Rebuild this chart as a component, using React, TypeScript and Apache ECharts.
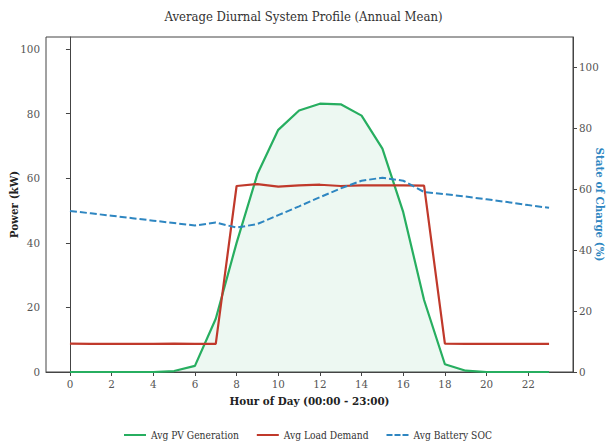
import React, { useEffect, useRef } from "react";
import * as echarts from "echarts";

const hours = [0, 1, 2, 3, 4, 5, 6, 7, 8, 9, 10, 11, 12, 13, 14, 15, 16, 17, 18, 19, 20, 21, 22, 23];
const pvGeneration = [0, 0, 0, 0, 0, 0.3, 1.9, 16.5, 40, 61.3, 75, 81, 83.1, 82.9, 79.4, 69.2, 49.5, 22.3, 2.4, 0.4, 0, 0, 0, 0];
const loadDemand = [8.8, 8.7, 8.7, 8.7, 8.7, 8.8, 8.7, 8.7, 57.6, 58.2, 57.4, 57.8, 58.0, 57.6, 57.8, 57.8, 57.8, 57.7, 8.8, 8.7, 8.7, 8.7, 8.7, 8.7];
const batterySoc = [52.9, 52.1, 51.3, 50.5, 49.7, 48.9, 48.1, 49.1, 47.4, 48.6, 51.5, 54.4, 57.4, 60.3, 62.8, 63.8, 62.8, 59.1, 58.4, 57.6, 56.7, 55.8, 54.8, 53.9];
const xTicks = [0, 2, 4, 6, 8, 10, 12, 14, 16, 18, 20, 22];
const yTicks = [0, 20, 40, 60, 80, 100];

const FONT = "'DejaVu Serif Condensed', 'DejaVu Serif', serif";
const SOLID_ICON = "path://M0,0H22V2H0Z";
const DASH_ICON = "path://M0,0H6V2H0Z M8,0H14V2H8Z M16,0H22V2H16Z";

export default function App() {
  const ref = useRef<HTMLDivElement>(null);
  useEffect(() => {
    if (!ref.current) return;
    const chart = echarts.init(ref.current, null, { renderer: "svg" });
    const pair = (arr: number[]) => hours.map((h, i) => [h, arr[i]]);
    const axisText = { color: "#555", fontFamily: FONT, fontSize: 11.5 };
    chart.setOption({
      animation: false,
      backgroundColor: "#fff",
      title: {
        text: "Average Diurnal System Profile (Annual Mean)",
        left: "center",
        top: 5,
        textStyle: { fontFamily: FONT, fontSize: 13, fontWeight: "normal", color: "#333" },
      },
      grid: {
        left: 46, right: 34, top: 37, bottom: 71,
        outerBoundsMode: "none", containLabel: false,
        show: true, borderColor: "#444", borderWidth: 1, backgroundColor: "transparent",
      },
      legend: {
        bottom: 3,
        left: 124,
        padding: [0, 0, 0, 0],
        itemWidth: 22,
        itemHeight: 2,
        itemGap: 18,
        textStyle: { fontFamily: FONT, fontSize: 10.2, color: "#333" },
        data: [
          { name: "Avg PV Generation", icon: SOLID_ICON },
          { name: "Avg Load Demand", icon: SOLID_ICON },
          { name: "Avg Battery SOC", icon: DASH_ICON },
        ],
      },
      xAxis: {
        type: "value",
        min: -1.15,
        max: 24.15,
        name: "Hour of Day (00:00 - 23:00)",
        nameLocation: "middle",
        nameGap: 21,
        nameTextStyle: { fontFamily: FONT, fontSize: 11.5, fontWeight: "bold", color: "#222" },
        axisLine: { show: true, lineStyle: { color: "#444" } },
        axisTick: { show: true, length: 4, customValues: xTicks, lineStyle: { color: "#444" } },
        axisLabel: { ...axisText, customValues: xTicks, margin: 6 },
        splitLine: { show: false },
      },
      yAxis: [
        {
          type: "value",
          min: 0,
          max: 103.75,
          name: "Power (kW)",
          nameLocation: "middle",
          nameGap: 26,
          nameMoveOverlap: false,
          nameTextStyle: { fontFamily: FONT, fontSize: 11.5, fontWeight: "bold", color: "#222" },
          axisLine: { show: true, lineStyle: { color: "#444" } },
          axisTick: { show: true, length: 4, customValues: yTicks, lineStyle: { color: "#444" } },
          axisLabel: { ...axisText, customValues: yTicks, margin: 6 },
          splitLine: { show: false },
        },
        {
          type: "value",
          min: 0,
          max: 110,
          position: "right",
          name: "State of Charge (%)",
          nameLocation: "middle",
          nameGap: 21,
          nameMoveOverlap: false,
          nameRotate: -90,
          nameTextStyle: { fontFamily: FONT, fontSize: 11.5, fontWeight: "bold", color: "#2e86c1" },
          axisLine: { show: true, lineStyle: { color: "#444" } },
          axisTick: { show: true, length: 4, customValues: yTicks, lineStyle: { color: "#444" } },
          axisLabel: { ...axisText, customValues: yTicks, margin: 6 },
          splitLine: { show: false },
        },
      ],
      series: [
        {
          name: "Avg PV Generation",
          type: "line",
          yAxisIndex: 0,
          data: pair(pvGeneration),
          symbol: "none",
          lineStyle: { color: "#27ae60", width: 2.2 },
          itemStyle: { color: "#27ae60" },
          areaStyle: { color: "rgba(39,174,96,0.12)" },
          z: 2,
        },
        {
          name: "Avg Load Demand",
          type: "line",
          yAxisIndex: 0,
          data: pair(loadDemand),
          symbol: "none",
          lineStyle: { color: "#c0392b", width: 2.2 },
          itemStyle: { color: "#c0392b" },
          z: 3,
        },
        {
          name: "Avg Battery SOC",
          type: "line",
          yAxisIndex: 1,
          data: pair(batterySoc),
          symbol: "none",
          lineStyle: { color: "#2e86c1", width: 2, type: [7, 3] },
          itemStyle: { color: "#2e86c1" },
          z: 4,
        },
      ],
    });
    return () => chart.dispose();
  }, []);
  return <div ref={ref} style={{ position: "fixed", left: 0, top: 0, width: 607, height: 443 }} />;
}
